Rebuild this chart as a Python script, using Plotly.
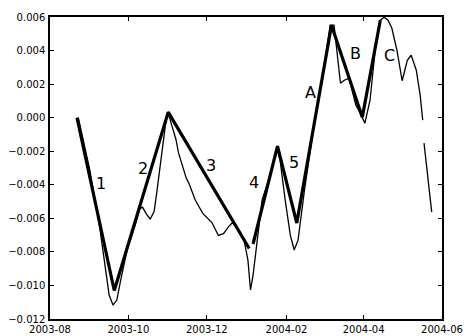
import plotly.graph_objects as go

# Thick zigzag (segments 1-5, A, B, C); None = break in line
thick_dates = ["2003-08-22", "2003-09-20", "2003-11-01", "2004-01-03", None,
               "2004-01-06", "2004-01-25", "2004-02-09", "2004-03-07", "2004-03-31", "2004-04-14"]
thick_values = [0.0, -0.0103, 0.00033, -0.0078, None,
                -0.00753, -0.0017, -0.00628, 0.00551, 0.00003, 0.00581]

# Thin series
thin_dates = [
    "2003-08-23", "2003-09-01", "2003-09-09", "2003-09-13", "2003-09-16", "2003-09-19",
    "2003-09-22", "2003-09-25", "2003-09-30", "2003-10-06", "2003-10-10", "2003-10-12",
    "2003-10-15", "2003-10-18", "2003-10-21", "2003-10-23", "2003-10-26", "2003-10-29",
    "2003-10-31", "2003-11-02", "2003-11-05", "2003-11-07", "2003-11-09", "2003-11-11",
    "2003-11-15", "2003-11-17", "2003-11-22", "2003-11-28", "2003-12-02", "2003-12-05",
    "2003-12-10", "2003-12-14", "2003-12-18", "2003-12-21", "2003-12-26", "2003-12-30",
    "2004-01-02", "2004-01-04", "2004-01-06", "2004-01-09", "2004-01-13", "2004-01-18",
    "2004-01-21", "2004-01-25", "2004-01-27", "2004-01-31", "2004-02-04", "2004-02-07",
    "2004-02-10", "2004-02-15", "2004-02-23", "2004-03-02", "2004-03-06", "2004-03-09",
    "2004-03-12", "2004-03-14", "2004-03-17", "2004-03-21", "2004-03-23", "2004-03-26",
    "2004-03-29", "2004-04-01", "2004-04-02", "2004-04-06", "2004-04-10", "2004-04-14",
    "2004-04-17", "2004-04-20", "2004-04-23", "2004-04-27", "2004-05-01", "2004-05-05",
    "2004-05-08", "2004-05-12", "2004-05-15", "2004-05-17", None,
    "2004-05-18", "2004-05-21", "2004-05-24",
]
thin_values = [
    0.0, -0.00313, -0.0067, -0.00908, -0.01057, -0.01117,
    -0.01087, -0.00968, -0.00789, -0.00646, -0.00542, -0.00533,
    -0.00575, -0.00604, -0.0056, -0.0045, -0.0028, -0.0009,
    0.00027, 0.0, -0.0007, -0.0013, -0.0021, -0.00265,
    -0.0036, -0.0039, -0.00491, -0.00572, -0.00601, -0.00625,
    -0.00702, -0.00691, -0.00649, -0.00625, -0.0067, -0.0073,
    -0.00849, -0.01027, -0.00938, -0.0073, -0.00491, -0.00372,
    -0.00283, -0.00194, -0.00253, -0.00491, -0.00702, -0.00789,
    -0.0073, -0.00432, -0.00015, 0.00342, 0.00551, 0.00551,
    0.00342, 0.00205, 0.00223, 0.00235, 0.00164, 0.00074,
    0.00033, -0.00015, -0.00033, 0.00104, 0.00402, 0.00581,
    0.00599, 0.00581, 0.00533, 0.00399, 0.0022, 0.00342,
    0.00372, 0.00283, 0.00134, -0.00015, None,
    -0.00152, -0.00342, -0.00563,
]

# Segment labels
label_texts = ["1", "2", "3", "4", "5", "A", "B", "C"]
label_dates = ["2003-09-10", "2003-10-12", "2003-12-04", "2004-01-07",
               "2004-02-07", "2004-02-20", "2004-03-26", "2004-04-21"]
label_values = [-0.0039, -0.00301, -0.00283, -0.00384, -0.00265, 0.00152, 0.00384, 0.00372]

x_tickvals = ["2003-08-01", "2003-10-01", "2003-12-01", "2004-02-01", "2004-04-01", "2004-06-01"]
y_tickvals = [0.006, 0.004, 0.002, 0.0, -0.002, -0.004, -0.006, -0.008, -0.010, -0.012]

fig = go.Figure()
fig.add_trace(go.Scatter(x=thin_dates, y=thin_values, mode="lines",
                         line=dict(color="black", width=1.3), connectgaps=False,
                         showlegend=False, hoverinfo="skip"))
fig.add_trace(go.Scatter(x=thick_dates, y=thick_values, mode="lines",
                         line=dict(color="black", width=3.2), connectgaps=False,
                         showlegend=False, hoverinfo="skip"))

for t, d, v in zip(label_texts, label_dates, label_values):
    fig.add_annotation(x=d, y=v, text=t, showarrow=False,
                       font=dict(family="DejaVu Sans", size=16, color="black"))

tick_font = dict(family="DejaVu Sans", size=10, color="black")
fig.update_xaxes(type="date", range=["2003-08-01", "2004-06-01"],
                 tickmode="array", tickvals=x_tickvals, tickformat="%Y-%m",
                 ticks="inside", ticklen=4, tickcolor="black", tickwidth=1,
                 showline=True, linecolor="black", linewidth=1.5, mirror="allticks",
                 showgrid=False, zeroline=False, tickfont=tick_font,
                 ticklabelstandoff=0, automargin=False)
fig.update_yaxes(range=[-0.012, 0.006], tickmode="array", tickvals=y_tickvals,
                 tickformat=".3f",
                 ticks="inside", ticklen=4, tickcolor="black", tickwidth=1,
                 showline=True, linecolor="black", linewidth=1.5, mirror="allticks",
                 showgrid=False, zeroline=False, tickfont=tick_font,
                 ticklabelstandoff=1, automargin=False)
fig.update_layout(width=465, height=336, margin=dict(l=50, r=23, t=17, b=17),
                  paper_bgcolor="white", plot_bgcolor="white")
fig.write_html("out.html", config={"displayModeBar": False},
               post_script="document.body.style.margin='0';document.body.style.overflow='hidden';")
